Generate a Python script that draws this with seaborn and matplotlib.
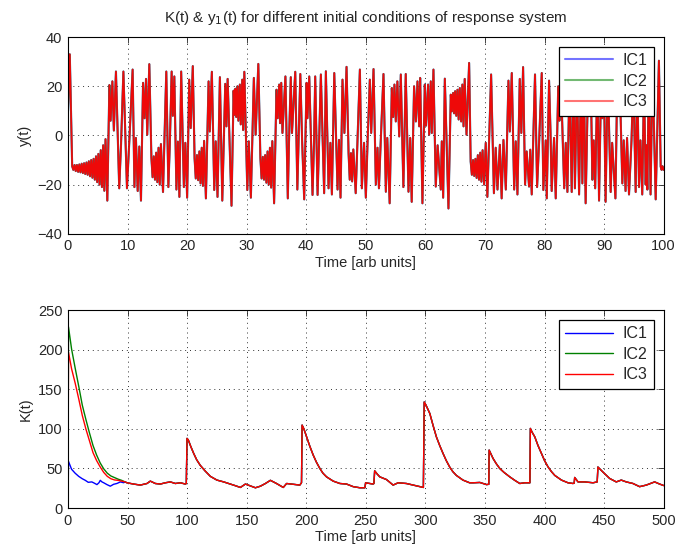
import pandas as pd
import seaborn as sns
from matplotlib import pyplot as plt

sns.set_style('white')
plt.rcParams['font.family'] = ['Liberation Sans', 'DejaVu Sans']
plt.rcParams['font.size'] = 10.5

IC_LABELS = ['IC1', 'IC2', 'IC3']
IC_COLORS = {'IC1': '#0000ff', 'IC2': '#008000', 'IC3': '#ff0000'}

# y1(t), (time, value) at turning points
Y1_SEG_0_20 = [
    (0.0, 10), (0.3, 33), (0.7, -12.5),
    (0.9, -14), (1.1, -12), (1.3, -14.5), (1.5, -12), (1.7, -14.8), (1.9, -11.8),
    (2.1, -15), (2.3, -11.5), (2.5, -15.3), (2.7, -11.3), (2.9, -15.7), (3.1, -11),
    (3.3, -16), (3.5, -10.5), (3.7, -16.6), (3.9, -10), (4.1, -17.2), (4.3, -9.5),
    (4.5, -18), (4.7, -8.5), (4.9, -19), (5.1, -7.5), (5.3, -20), (5.5, -6),
    (5.7, -21), (5.9, -4), (6.1, -22.5), (6.3, -1.5), (6.6, -26.5),
    (6.95, 20.5), (7.15, 6), (7.45, 22), (7.7, 2), (8.05, 26), (8.6, -21.5),
    (8.9, -3.8), (9.3, 26), (9.9, -21.5), (10.3, -2), (10.85, 26.8), (11.15, -21),
    (11.4, -1), (11.7, -22.6), (11.97, -4.5), (12.25, -26.5), (12.6, 21.4),
    (12.85, 7), (13.1, 23), (13.3, 0.3), (13.65, 29), (14.0, -9),
    (14.2, -17), (14.4, -8.5), (14.6, -18), (14.8, -7), (15.0, -19), (15.2, -5),
    (15.4, -20), (15.6, -3.5), (15.95, -23), (16.5, 26), (16.85, -21), (17.1, -3),
    (17.4, 26), (17.6, 8), (17.85, 24), (18.2, -22), (18.45, -2.5), (18.7, -25),
    (19.0, 26), (19.45, -21), (19.7, -3),
]
Y1_SEG_20_40 = [
    (20.0, -25.3), (20.35, 22.7), (20.6, 3), (20.95, 28.2), (21.25, -9.3),
    (21.45, -17.5), (21.65, -8), (21.85, -18.2), (22.05, -6.5), (22.25, -19.5),
    (22.45, -5), (22.65, -20.5), (22.85, -2.2), (23.15, -25.6), (23.6, 22),
    (23.8, 1.6), (24.15, 25.9), (24.55, -22.2), (24.8, -2.4), (25.1, -25),
    (25.5, 23.7), (25.9, -26.5), (26.4, 21), (26.6, 3.7), (26.8, 23),
    (27.45, -28.6), (27.8, 18.2), (27.95, 8.4), (28.1, 19), (28.25, 7.5),
    (28.45, 20), (28.6, 6), (28.85, 20.7), (29.0, 4.5), (29.25, 22.7), (29.4, 2.2),
    (29.6, 25.9), (30.1, -22.2), (30.35, -2.4), (30.7, -25.3), (31.2, 23.4),
    (31.5, 0.3), (31.95, 29.1), (32.3, -9.3), (32.5, -17.5), (32.7, -8.7),
    (32.9, -18), (33.1, -8), (33.3, -19.2), (33.5, -6.5), (33.7, -20), (33.9, -5),
    (34.1, -21.2), (34.3, -2.3), (34.6, -27.6), (35.0, 18.6), (35.2, 7),
    (35.45, 20.7), (35.6, 5), (35.8, 21.4), (36.0, 1), (36.5, 24), (36.9, -25.6),
    (37.1, -2.4), (37.4, 23.7), (37.6, 1), (38.15, 25.9), (38.5, -22), (39.0, 25),
    (39.3, -2), (39.65, -26),
]
Y1_SEG_40_60 = [
    (40.05, 21.4), (40.2, 7), (40.5, 24), (41.05, -24.2), (41.3, -3), (41.5, 24),
    (41.9, -24.2), (42.15, -3), (42.45, 24.8), (43.0, -23.5), (43.29, 26.1),
    (43.74, -21.5), (44.05, -3), (44.3, -24), (44.7, 25.4), (45.25, -22),
    (45.5, -1.8), (45.75, -25.3), (46.08, 22.7), (46.4, 1), (46.76, 27.9),
    (47.1, -7.2), (47.3, -18), (47.5, -7.2), (47.7, -18.7), (47.9, -5.7),
    (48.3, -23.5), (49.0, 26.8), (49.33, -21.5), (49.7, -3), (50.0, -25.3),
    (50.3, -2), (50.67, 22.7), (50.9, 1), (51.29, 27), (51.68, -20), (51.96, -5),
    (52.2, -21.5), (52.5, -2.4), (52.96, 25), (53.36, -22.9), (53.6, -1),
    (54.0, -27.6), (54.36, 19.3), (54.59, 7.5), (54.8, 20.7), (55.03, 5.7),
    (55.3, 22), (55.6, -0.4), (55.87, 24.8), (56.3, -21), (56.7, 25),
    (57.16, -22.9), (57.45, -1), (57.7, -27), (58.1, 20), (58.4, 5.7), (58.67, 22),
    (58.95, 3.7), (59.12, 23.4), (59.5, -27.6), (59.9, 20.7),
]
Y1_SEG_60_80 = [
    (60.1, 4), (60.45, 20.7), (60.63, 0.3), (60.9, 22), (61.07, 1), (61.35, 26.8),
    (61.74, -20.8), (62.05, -4), (62.58, -22), (62.75, -2.4), (62.98, -25.3),
    (63.26, 23.1), (63.53, 0.3), (63.87, -29.7), (64.26, 16.6), (64.45, 9.8),
    (64.65, 17.3), (64.82, 9), (64.99, 18), (65.18, 8), (65.38, 18.6), (65.58, 6.5),
    (65.77, 19.3), (66.0, 5.7), (66.2, 20.7), (66.4, 3.7), (66.6, 23), (66.9, 0.3),
    (67.34, 29.5), (67.6, -10.6), (67.8, -16), (68.0, -10), (68.2, -16.5),
    (68.4, -9.5), (68.6, -17.3), (68.8, -8), (69.0, -18), (69.2, -7), (69.4, -18.8),
    (69.6, -6), (69.85, -20), (70.13, -3), (70.4, -25), (71.03, 24.8), (71.25, 1.6),
    (71.5, -23.5), (71.8, -5), (72.1, -22), (72.5, -3.8), (72.8, -25.6),
    (73.1, -1.8), (73.5, -22), (73.94, 22.3), (74.17, 1.6), (74.5, 25.4),
    (74.9, -22), (75.17, -2.4), (75.45, -24), (75.84, 23), (76.1, 1), (76.4, 27.8),
    (76.73, -20), (77.0, -6.5), (77.4, -20.8), (77.6, -5.8), (77.85, -24),
    (78.4, 24.8), (78.75, -21), (79.1, -2), (79.53, 25.4), (79.8, -22.2),
]
Y1_SEG_80_100 = [
    (80.2, -2), (80.37, -25.6), (80.76, 22.3), (81.0, 1.6), (81.2, -22.6),
    (81.6, -1), (81.88, -25.6), (82.3, 20), (82.5, 6), (82.7, 26.4), (83.3, -21.5),
    (83.56, -3), (83.84, -23), (84.2, 25), (84.56, -23), (84.85, 24), (85.1, -21.5),
    (85.45, 23), (85.8, -24), (86.1, 22), (86.35, -19.5), (86.6, 25), (86.9, -27.6),
    (87.3, 21), (87.5, 8), (87.75, 24), (88.03, -18), (88.25, -2), (88.5, -21.5),
    (88.87, 24), (89.15, -26.5), (89.5, 22), (89.7, 7), (89.95, 25), (90.25, -27),
    (90.6, 24), (90.8, 6), (91.1, -23), (91.35, -3), (91.9, -25.6), (92.2, 21),
    (92.4, 8), (92.6, 24), (92.8, 5), (93.06, -19.5), (93.3, -2), (93.6, -22.6),
    (93.85, -1), (94.18, -24), (94.6, -2), (94.9, 23), (95.3, -23), (95.55, 25),
    (95.86, -21), (96.1, -2), (96.4, -24), (96.7, 22), (96.98, -20), (97.1, -4),
    (97.26, -22), (97.5, 25), (97.8, -24), (98.1, 24), (98.35, 5), (98.66, -26),
    (99.2, 30.4), (99.5, -12.7), (99.65, -14), (99.8, -12.5), (100.0, -14),
]

# K(t): the three transients, then the part where all ICs coincide
K_T_IC1 = [0, 0.4, 3, 6, 9, 12, 14.5, 17, 20, 22, 24.3, 26, 27.1, 28.5, 30,
           32.7, 35.5, 38.3, 41, 44, 46.7]
K_IC1 = [0, 59, 49, 44, 40, 37, 35, 32.5, 33, 31.5, 29.6, 32, 35, 33, 31.9,
         29.6, 27.6, 30, 31, 33, 32]
K_T_IC2 = [0, 0.4, 3, 6, 9, 12, 15, 18, 21, 24, 27, 30, 33, 36, 39, 42, 45]
K_IC2 = [0, 229, 201, 177, 154, 130, 112, 95, 79, 67, 57, 49.5, 44, 40.5,
         38.5, 36.5, 35]
K_T_IC3 = [0, 0.4, 3, 6, 9, 12, 15, 18, 21, 24, 27, 30, 33, 36, 39, 42, 45]
K_IC3 = [0, 197, 176, 158, 138, 117, 100, 85, 70, 60, 52, 45, 40, 37, 35.5,
         35, 34]
K_T_SHARED = [
    48, 49.5, 55, 60.7, 66.3, 69.1, 73.3, 77.5, 81.7, 85.9, 90.1, 94.3, 98.5,
    99.3, 99.9, 101, 103, 105.5, 108, 111, 115, 119.5, 125, 130.7, 136.3, 140.5,
    144.7, 148.9, 153.1, 157.3, 161.5, 165.7, 169.9, 175, 180.7, 183.5, 189,
    194.6, 196, 196.5, 198, 200.3, 203, 205.8, 208.5, 211.4, 214, 217, 222.6,
    228.2, 233.8, 239.4, 245, 249.2, 249.8, 256, 256.8, 257.4, 259.5, 261.7,
    267.3, 272.9, 277.1, 284, 289.7, 295.3, 298.3, 299.0, 300.5, 303.7, 306.5,
    309.2, 312, 314.8, 317.5, 320.4, 323, 326, 331.5, 337.1, 340.1, 345.7, 351.3,
    353.2, 353.5, 356.8, 359.5, 362.4, 366, 370.8, 375, 379.2, 383.4, 387.7,
    388.1, 389.5, 391.8, 394.5, 397.4, 400, 403, 405.8, 408.6, 414.2, 419.7,
    423.9, 424.9, 425.3, 428.1, 433.7, 440.7, 444.2, 444.8, 449, 454.6, 460.2,
    464.4, 468.6, 474.2, 479.8, 485.4, 492.4, 496.6, 500,
]
K_SHARED = [
    33, 31.9, 30.3, 29, 31, 34, 31, 30.3, 31.9, 33, 31, 31.9, 30.3,
    31, 88, 86, 78, 69, 61, 54, 47, 40, 35.3, 33, 30.3, 28.2,
    26, 30.3, 28, 25.6, 27.6, 31, 35, 31, 26, 31, 30,
    29, 32, 104.8, 100, 90, 78, 67, 58, 50, 44, 39.4, 34,
    31, 30.3, 27, 25.6, 25.6, 31.9, 30.3, 31, 47, 43, 39.4,
    36, 29, 31.9, 31, 29, 27, 26, 134, 130, 119.5, 104,
    90, 79, 69, 60, 51.8, 46, 41.2, 35.3, 31.9, 31.9, 32.3, 29.6,
    30, 73.2, 62.6, 56, 50, 45, 39.4, 35, 31, 31.9, 31.9,
    100.6, 96, 90, 79, 69, 60, 51.8, 46, 41.2, 35.3, 31.9,
    31, 31.5, 38.6, 33, 33, 31.9, 33, 51.8, 45.5, 37.4, 33,
    35.3, 33, 31, 27, 29, 33, 30.3, 28.4,
]

y1_pts = Y1_SEG_0_20 + Y1_SEG_20_40 + Y1_SEG_40_60 + Y1_SEG_60_80 + Y1_SEG_80_100
y1_t = [p[0] for p in y1_pts]
y1_v = [p[1] for p in y1_pts]
top_df = pd.concat([pd.DataFrame({'t': y1_t, 'y': y1_v, 'IC': ic}) for ic in IC_LABELS],
                   ignore_index=True)

k_early = {'IC1': (K_T_IC1, K_IC1), 'IC2': (K_T_IC2, K_IC2), 'IC3': (K_T_IC3, K_IC3)}
k_frames = []
for ic in IC_LABELS:
    t0, k0 = k_early[ic]
    k_frames.append(pd.DataFrame({'t': t0 + K_T_SHARED, 'K': k0 + K_SHARED, 'IC': ic}))
bot_df = pd.concat(k_frames, ignore_index=True)


def matlab_style(ax, xlim, xticks, ylim, yticks):
    ax.set_xlim(*xlim)
    ax.set_ylim(*ylim)
    ax.set_xticks(xticks)
    ax.set_yticks(yticks)
    ax.set_axisbelow(True)
    ax.grid(True, linestyle=(0, (1, 4)), color='0.2', linewidth=0.7)
    ax.tick_params(direction='in', top=True, right=True, length=4, width=0.6,
                   labelsize=10.5, pad=4)
    for s in ax.spines.values():
        s.set_color('k')
        s.set_linewidth(0.8)


def ic_legend(ax):
    ax.legend(ax.lines[:3], IC_LABELS, loc='upper right', frameon=True,
              fancybox=False, edgecolor='k', framealpha=1, fontsize=11.5,
              handlelength=3.0, handletextpad=0.6, borderaxespad=0.6,
              labelspacing=0.35)
    ax.get_legend().get_frame().set_linewidth(0.9)


fig = plt.figure(figsize=(6.8, 5.54), dpi=100)
ax1 = fig.add_axes([0.1, 0.578, 0.876, 0.355])
ax2 = fig.add_axes([0.1, 0.083, 0.876, 0.357])

sns.lineplot(data=top_df, x='t', y='y', hue='IC', hue_order=IC_LABELS,
             palette=IC_COLORS, estimator=None, sort=False, legend=False,
             linewidth=1.5, alpha=0.55, ax=ax1)
matlab_style(ax1, (0, 100), range(0, 101, 10), (-40, 40), range(-40, 41, 20))
ax1.set_xlabel('Time [arb units]', labelpad=2)
ax1.set_ylabel('y(t)')
ax1.set_title('K(t) & y$_1$(t) for different initial conditions of response system',
              fontsize=11, pad=11)
ic_legend(ax1)
# red trace sits on top of the others and is nearly opaque
ax1.lines[2].set_alpha(0.92)
ax1.lines[2].set_linewidth(1.25)

sns.lineplot(data=bot_df, x='t', y='K', hue='IC', hue_order=IC_LABELS,
             palette=IC_COLORS, estimator=None, sort=False, legend=False,
             linewidth=1.0, ax=ax2)
matlab_style(ax2, (0, 500), range(0, 501, 50), (0, 250), range(0, 251, 50))
ax2.set_xlabel('Time [arb units]', labelpad=2)
ax2.set_ylabel('K(t)')
ic_legend(ax2)

fig.savefig('out.png', dpi=100)
